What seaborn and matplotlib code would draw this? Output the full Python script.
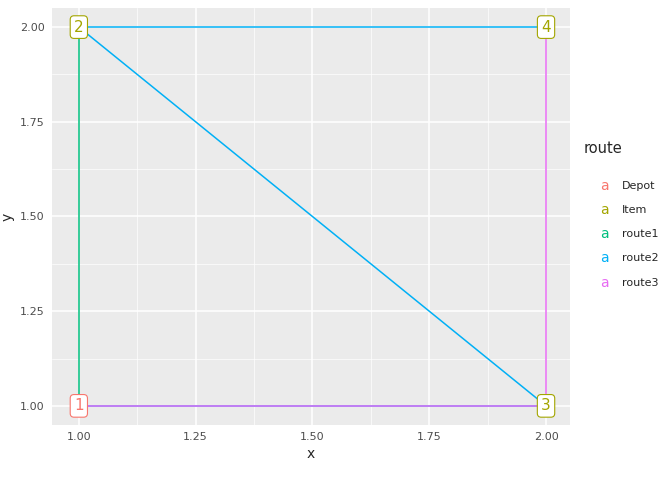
import matplotlib
matplotlib.use("Agg")
import matplotlib.pyplot as plt
import seaborn as sns
import pandas as pd

node_x = [1, 1, 2, 2]
node_y = [1, 2, 1, 2]
node_label = ["1", "2", "3", "4"]
node_type = ["Depot", "Item", "Item", "Item"]

seg_route = ["route1", "route2", "route2", "route2", "route3", "route3"]
seg_from = [1, 2, 2, 3, 4, 3]
seg_to = [2, 4, 3, 1, 3, 1]

route_names = ["Depot", "Item", "route1", "route2", "route3"]
colors = {"Depot": "#F8766D", "Item": "#A3A500", "route1": "#00BF7D",
          "route2": "#00B0F6", "route3": "#E76BF3"}

rows = []
for i, (r, a, b) in enumerate(zip(seg_route, seg_from, seg_to)):
    rows.append(dict(seg=i, route=r, x=node_x[a-1], y=node_y[a-1]))
    rows.append(dict(seg=i, route=r, x=node_x[b-1], y=node_y[b-1]))
df = pd.DataFrame(rows)

sns.set_theme(style="darkgrid", rc={"axes.facecolor": "#EBEBEB", "grid.color": "white"})
fig = plt.figure(figsize=(6.72, 4.8), dpi=100)
ax = fig.add_axes([0.077, 0.115, 0.771, 0.868])
for r in ["route1", "route2", "route3"]:
    sub = df[df.route == r]
    sns.lineplot(data=sub, x="x", y="y", units="seg", estimator=None, sort=False,
                 color=colors[r], lw=1.1, ax=ax, legend=False)
for x, y, l, t in zip(node_x, node_y, node_label, node_type):
    ax.text(x, y, l, ha="center", va="center", color=colors[t], fontsize=11,
            bbox=dict(boxstyle="round,pad=0.25", fc="white", ec=colors[t], lw=0.8))
ax.set_xlim(0.942, 2.051)
ax.set_ylim(0.95, 2.05)
ticks = [1.0, 1.25, 1.5, 1.75, 2.0]
ax.set_xticks(ticks); ax.set_yticks(ticks)
ax.set_xticks([1.125, 1.375, 1.625, 1.875], minor=True)
ax.set_yticks([1.125, 1.375, 1.625, 1.875], minor=True)
ax.grid(True, which="major", color="white", lw=1.1)
ax.grid(True, which="minor", color="white", lw=0.5)
ax.set_xticklabels([f"{t:.2f}" for t in ticks], fontsize=8, color="#4D4D4D")
ax.set_yticklabels([f"{t:.2f}" for t in ticks], fontsize=8, color="#4D4D4D")
ax.tick_params(length=3, color="#333333", pad=2)
ax.tick_params(which="minor", length=0)
ax.set_xlabel("x", fontsize=10)
ax.set_ylabel("y", fontsize=10)
for s in ax.spines.values():
    s.set_visible(False)

fig.text(0.868, 0.69, "route", fontsize=10.5, va="center")
for i, r in enumerate(route_names):
    yy = 0.613 - i * 0.0505
    fig.text(0.9, yy, "a", color=colors[r], fontsize=10, ha="center", va="center")
    fig.text(0.925, yy, r, fontsize=8, va="center")
fig.savefig("out.png", dpi=100)
